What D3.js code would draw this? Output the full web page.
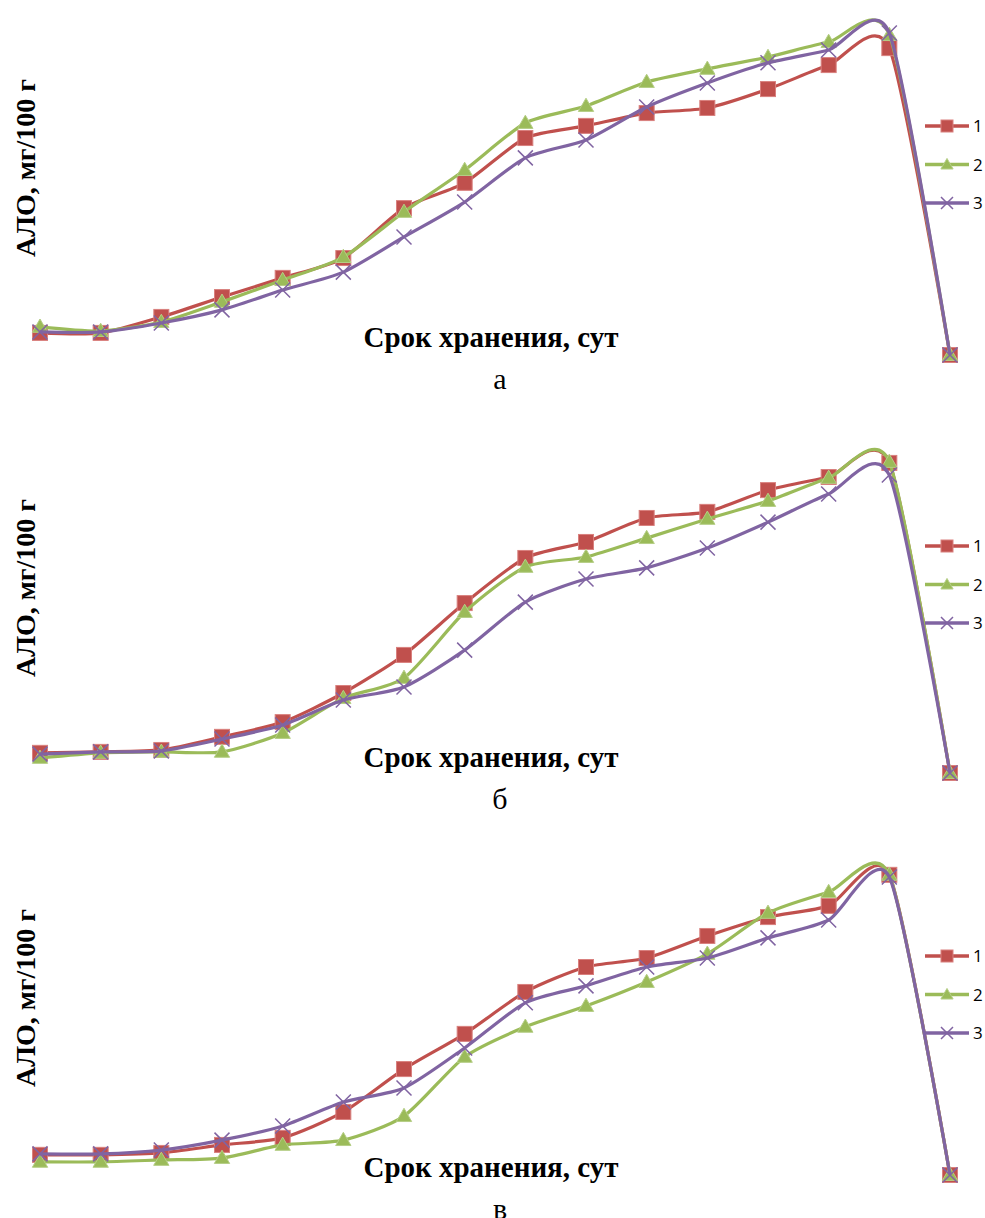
<!DOCTYPE html>
<html>
<head>
<meta charset="utf-8">
<script src="https://cdn.jsdelivr.net/npm/d3@7/dist/d3.min.js"></script>
<style>
body { margin: 0; background: #fff; }
</style>
</head>
<body>
<div id="chart"></div>
<script>
// дни хранения (точки по оси X, подписей на графике нет)
var days = [1, 2, 3, 4, 5, 6, 7, 8, 9, 10, 11, 12, 13, 14, 15, 16];
var seriesNames = ["1", "2", "3"];
var panelLetters = ["а", "б", "в"];

// панель а
var a1 = [6.9, 6.9, 11.9, 18.1, 24.1, 30.3, 45.9, 53.8, 67.8, 71.6, 75.6, 77.2, 83.1, 90.6, 95.9, 0];
var a2 = [8.8, 7.5, 10.3, 16.6, 23.4, 30.6, 44.7, 57.8, 72.5, 77.8, 85.3, 89.4, 93.1, 97.8, 100.0, 0];
var a3 = [7.2, 7.2, 10.0, 14.1, 20.3, 25.9, 36.9, 47.8, 61.6, 67.2, 77.5, 85.0, 91.3, 95.3, 100.6, 0];
// панель б
var b1 = [6.3, 6.6, 7.2, 11.3, 15.9, 25.0, 36.9, 53.1, 67.2, 72.2, 79.7, 81.6, 88.4, 92.5, 96.9, 0];
var b2 = [4.7, 6.3, 6.6, 6.6, 12.5, 23.4, 29.7, 50.3, 64.4, 67.5, 73.4, 79.4, 85.0, 92.2, 97.2, 0];
var b3 = [5.9, 6.6, 6.9, 10.6, 15.0, 22.8, 26.9, 38.4, 53.4, 60.6, 64.1, 70.3, 78.4, 87.2, 93.1, 0];
// панель в
var c1 = [6.3, 6.3, 6.9, 9.4, 11.6, 19.7, 33.1, 44.1, 57.2, 65.0, 67.8, 74.7, 80.6, 84.1, 93.8, 0];
var c2 = [4.1, 4.1, 4.7, 5.3, 9.4, 10.9, 18.4, 36.9, 46.3, 52.8, 60.3, 69.1, 81.9, 88.4, 93.8, 0];
var c3 = [6.6, 6.6, 7.8, 10.9, 15.3, 22.8, 27.2, 39.7, 53.8, 59.1, 65.0, 67.8, 74.1, 79.7, 93.1, 0];

var panels = [
	{ letter: panelLetters[0], top: 0, bottom: 355, series: [a1, a2, a3] },
	{ letter: panelLetters[1], top: 420, bottom: 773, series: [b1, b2, b3] },
	{ letter: panelLetters[2], top: 830, bottom: 1175, series: [c1, c2, c3] }
];

var colors = ["#C0504D", "#9BBB59", "#8064A2"];
var markerTypes = ["square", "triangle", "cross"];

var width = 985, height = 1218;
var svg = d3.select("#chart").append("svg")
	.attr("width", width).attr("height", height);

var x = d3.scalePoint().domain(days).range([40, 950]);

// рисует маркер заданного типа в точке (cx, cy)
function drawMarker(g, type, color, cx, cy, s) {
	if (type == "square") {
		g.append("rect").attr("x", cx - s / 2).attr("y", cy - s / 2)
			.attr("width", s).attr("height", s)
			.attr("fill", color).attr("stroke", "#D9807E").attr("stroke-width", 1);
	} else if (type == "triangle") {
		g.append("path")
			.attr("d", d3.symbol(d3.symbolTriangle, s * s * 0.45)())
			.attr("transform", "translate(" + cx + "," + (cy + 1) + ")")
			.attr("fill", color).attr("stroke", "#B5CE86").attr("stroke-width", 1);
	} else {
		var h = s / 2;
		g.append("path")
			.attr("d", "M" + (cx - h) + "," + (cy - h) + "L" + (cx + h) + "," + (cy + h)
				+ "M" + (cx - h) + "," + (cy + h) + "L" + (cx + h) + "," + (cy - h))
			.attr("stroke", color).attr("stroke-width", 1.5).attr("fill", "none");
	}
}

panels.forEach(function(p) {
	var g = svg.append("g");
	var y = d3.scaleLinear().domain([0, 100]).range([p.bottom, p.bottom - 320]);
	var line = d3.line()
		.x(function(d, i) { return x(days[i]); })
		.y(function(d) { return y(d); })
		.curve(d3.curveCardinal.tension(0.3)); // сглаживание как в Excel

	// подписи осей
	g.append("text")
		.attr("transform", "translate(35," + (p.top + 168) + ") rotate(-90)")
		.attr("text-anchor", "middle")
		.style("font-family", "'Liberation Serif', 'Times New Roman', serif")
		.style("font-weight", "bold").style("font-size", "28px")
		.text("АЛО, мг/100 г");
	g.append("text")
		.attr("x", 491).attr("y", p.top + 347)
		.attr("text-anchor", "middle")
		.style("font-family", "'Liberation Serif', 'Times New Roman', serif")
		.style("font-weight", "bold").style("font-size", "29px")
		.text("Срок хранения, сут");
	g.append("text")
		.attr("x", 500).attr("y", p.top + 389)
		.attr("text-anchor", "middle")
		.style("font-family", "'Liberation Serif', 'Times New Roman', serif")
		.style("font-size", "30px")
		.text(p.letter);

	// линии и маркеры
	p.series.forEach(function(vals, si) {
		g.append("path").datum(vals)
			.attr("d", line)
			.attr("fill", "none")
			.attr("stroke", colors[si])
			.attr("stroke-width", 3.2)
			.attr("stroke-linejoin", "round");
		vals.forEach(function(v, i) {
			drawMarker(g, markerTypes[si], colors[si], x(days[i]), y(v), 15);
		});
	});

	// легенда
	var leg = g.append("g");
	seriesNames.forEach(function(name, si) {
		var ly = p.top + 126 + si * 38.5;
		leg.append("line").attr("x1", 925).attr("x2", 969)
			.attr("y1", ly).attr("y2", ly)
			.attr("stroke", colors[si]).attr("stroke-width", 3.5);
		drawMarker(leg, markerTypes[si], colors[si], 947, ly, 12);
		leg.append("text").attr("x", 973).attr("y", ly + 6)
			.style("font-family", "'Open Sans', 'Liberation Sans', sans-serif")
			.style("font-size", "17px").attr("fill", "#000")
			.text(name);
	});
});
</script>
</body>
</html>
